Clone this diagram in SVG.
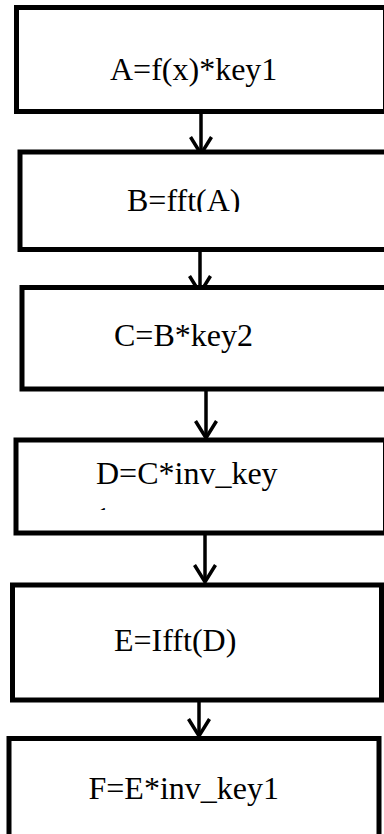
<svg xmlns="http://www.w3.org/2000/svg" width="384" height="834" viewBox="0 0 384 834">
<style>
.box{fill:#fff;stroke:#000;stroke-width:5}
.lbl{font-family:"Liberation Serif","Times New Roman",serif;font-size:32px;fill:#000}
.conn{stroke:#000;stroke-width:3.5;fill:none}
</style>
<defs>
<marker id="arr" markerUnits="userSpaceOnUse" markerWidth="30" markerHeight="30" viewBox="-3 -15 30 30" refX="17" refY="0" orient="auto">
<path d="M0,-10.5 L17,0 L0,10.5" fill="none" stroke="#000" stroke-width="3.5"/>
</marker>
<clipPath id="clipB"><rect x="0" y="150" width="384" height="62"/></clipPath>
<clipPath id="clipD1"><rect x="0" y="500" width="384" height="10"/></clipPath>
</defs>
<rect width="384" height="834" fill="#fff"/>
<g id="connectors">
<line class="conn" x1="201" y1="111" x2="201" y2="154" marker-end="url(#arr)"/>
<line class="conn" x1="200" y1="249" x2="200" y2="293" marker-end="url(#arr)"/>
<line class="conn" x1="206" y1="389" x2="206" y2="438" marker-end="url(#arr)"/>
<line class="conn" x1="205" y1="533" x2="205" y2="582" marker-end="url(#arr)"/>
<line class="conn" x1="199" y1="700" x2="199" y2="736" marker-end="url(#arr)"/>
</g>
<g id="nodeA">
<rect class="box" x="16.5" y="7.5" width="369" height="104"/>
<text class="lbl" x="110" y="80">A=f(x)*key1</text>
</g>
<g id="nodeB">
<rect class="box" x="20" y="152" width="380" height="97.5"/>
<text class="lbl" x="127" y="211" clip-path="url(#clipB)">B=fft(A)</text>
</g>
<g id="nodeC">
<rect class="box" x="22" y="287.5" width="380" height="101.5"/>
<text class="lbl" x="114" y="345.7">C=B*key2</text>
</g>
<g id="nodeD">
<rect class="box" x="16" y="440" width="369.5" height="93"/>
<text class="lbl" x="96" y="484.3">D=C*inv_key</text>
<text class="lbl" x="95" y="529" clip-path="url(#clipD1)">1</text>
</g>
<g id="nodeE">
<rect class="box" x="12.5" y="585" width="369" height="115"/>
<text class="lbl" x="114" y="651">E=Ifft(D)</text>
</g>
<g id="nodeF">
<rect class="box" x="9" y="738.5" width="370" height="110"/>
<text class="lbl" x="88.5" y="799.3">F=E*inv_key1</text>
</g>
</svg>
